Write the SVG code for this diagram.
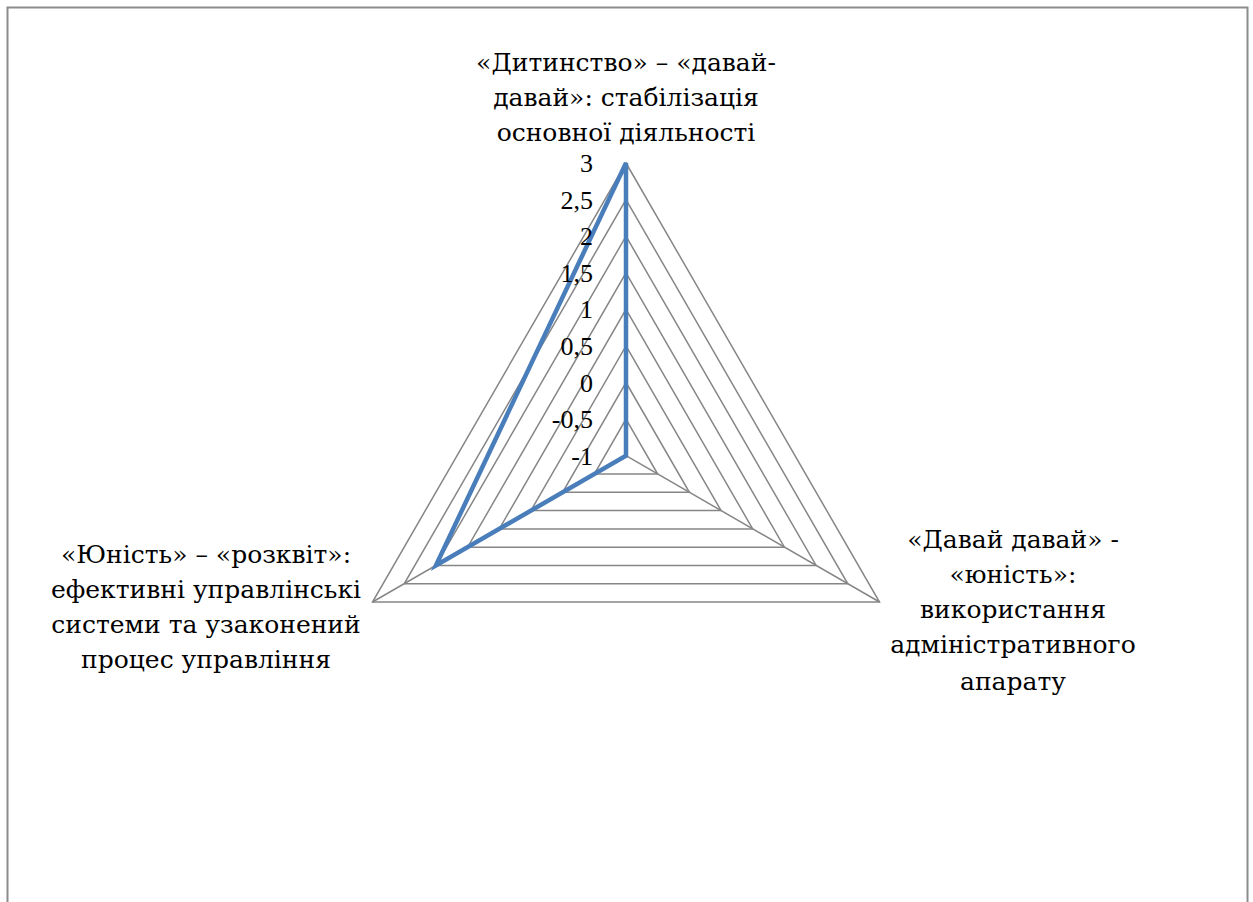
<svg xmlns="http://www.w3.org/2000/svg" width="1253" height="902" viewBox="0 0 1253 902">
<style>
.frame{fill:#ffffff;stroke:#8c8c8c;stroke-width:2}
.grid{fill:none;stroke:#868686;stroke-width:1.5}
.series{fill:none;stroke:#4a7ebb;stroke-width:4.5;stroke-linejoin:miter}
.val{font-family:"Liberation Serif","DejaVu Serif",serif;font-size:26px;fill:#000;text-anchor:end}
.cat{font-family:"DejaVu Serif",serif;font-size:25px;fill:#000;text-anchor:middle}
</style>
<rect class="frame" x="7.5" y="7.5" width="1240" height="1000"/>
<g id="grid">
<polygon class="grid" points="626,419.1 657.7,474 594.3,474"/>
<polygon class="grid" points="626,382.5 689.4,492.3 562.6,492.3"/>
<polygon class="grid" points="626,345.9 721.1,510.6 530.9,510.6"/>
<polygon class="grid" points="626,309.35 752.7,528.9 499.3,528.9"/>
<polygon class="grid" points="626,272.8 784.4,547.2 467.6,547.2"/>
<polygon class="grid" points="626,236.2 816.1,565.5 435.9,565.5"/>
<polygon class="grid" points="626,199.6 847.8,583.8 404.2,583.8"/>
<polygon class="grid" points="626,163 879.5,602 372.5,602"/>
</g>
<g id="connectors">
<line class="grid" x1="626" y1="455.7" x2="626" y2="163"/>
<line class="grid" x1="626" y1="455.7" x2="879.5" y2="602"/>
<line class="grid" x1="626" y1="455.7" x2="372.5" y2="602"/>
</g>
<g id="series">
<polygon class="series" points="626,163 626,455.7 435.9,565.5"/>
</g>
<g id="axis-values">
<text class="val" x="593" y="172">3</text>
<text class="val" x="593" y="208.6">2,5</text>
<text class="val" x="593" y="245.2">2</text>
<text class="val" x="593" y="281.8">1,5</text>
<text class="val" x="593" y="318.3">1</text>
<text class="val" x="593" y="354.9">0,5</text>
<text class="val" x="593" y="391.5">0</text>
<text class="val" x="593" y="428.1">-0,5</text>
<text class="val" x="593" y="464.7">-1</text>
</g>
<g id="label-top">
<text class="cat" x="626" y="71">«Дитинство» – «давай-</text>
<text class="cat" x="626" y="106">давай»: стабілізація</text>
<text class="cat" x="626" y="141">основної діяльності</text>
</g>
<g id="label-left">
<text class="cat" x="206" y="563">«Юність» – «розквіт»:</text>
<text class="cat" x="206" y="598">ефективні управлінські</text>
<text class="cat" x="206" y="633">системи та узаконений</text>
<text class="cat" x="206" y="668">процес управління</text>
</g>
<g id="label-right">
<text class="cat" x="1013" y="548">«Давай давай» -</text>
<text class="cat" x="1013" y="583">«юність»:</text>
<text class="cat" x="1013" y="618">використання</text>
<text class="cat" x="1013" y="653">адміністративного</text>
<text class="cat" x="1013" y="690">апарату</text>
</g>
</svg>
